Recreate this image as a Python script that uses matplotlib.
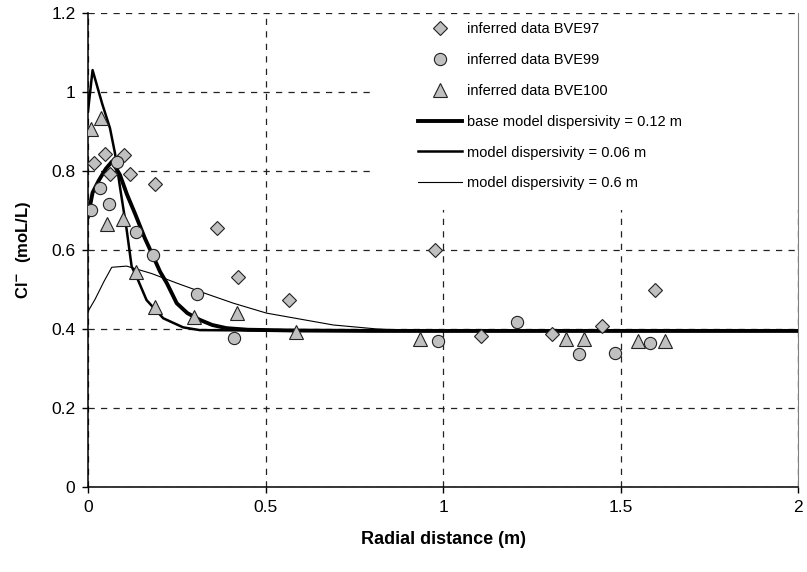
import matplotlib

matplotlib.use("Agg")
import matplotlib.pyplot as plt
from matplotlib.lines import Line2D
from matplotlib.patches import Rectangle

plt.rcParams["font.family"] = ["Liberation Sans", "DejaVu Sans"]

# inferred data (radial distance m, Cl- mol/L)
bve97_x = [0.018, 0.048, 0.062, 0.101, 0.118, 0.19, 0.362, 0.422, 0.567, 0.977, 1.106, 1.308, 1.447, 1.598]
bve97_y = [0.821, 0.842, 0.792, 0.839, 0.792, 0.768, 0.656, 0.532, 0.473, 0.600, 0.381, 0.387, 0.408, 0.499]

bve99_x = [0.008, 0.034, 0.060, 0.083, 0.135, 0.184, 0.308, 0.410, 0.985, 1.209, 1.382, 1.483, 1.583]
bve99_y = [0.701, 0.756, 0.716, 0.823, 0.645, 0.587, 0.488, 0.376, 0.370, 0.417, 0.336, 0.338, 0.365]

bve100_x = [0.008, 0.036, 0.053, 0.100, 0.135, 0.189, 0.300, 0.421, 0.586, 0.935, 1.345, 1.398, 1.548, 1.624]
bve100_y = [0.905, 0.933, 0.666, 0.678, 0.545, 0.456, 0.431, 0.440, 0.393, 0.374, 0.374, 0.374, 0.370, 0.370]

# model curves
base_x = [0.0, 0.013, 0.03, 0.05, 0.068, 0.09, 0.11, 0.132, 0.16, 0.184, 0.203, 0.222, 0.25, 0.28, 0.315, 0.35, 0.39, 0.45, 0.578, 0.8, 1.2, 2.0]
base_y = [0.684, 0.745, 0.775, 0.805, 0.824, 0.79, 0.74, 0.693, 0.63, 0.583, 0.545, 0.516, 0.465, 0.44, 0.423, 0.41, 0.402, 0.398, 0.396, 0.395, 0.395, 0.395]

d006_x = [0.0, 0.013, 0.04, 0.062, 0.076, 0.09, 0.109, 0.123, 0.137, 0.165, 0.212, 0.268, 0.315, 0.5, 1.0, 2.0]
d006_y = [0.95, 1.055, 0.97, 0.908, 0.845, 0.76, 0.651, 0.558, 0.532, 0.473, 0.427, 0.404, 0.397, 0.396, 0.395, 0.395]

d06_x = [0.0, 0.02, 0.045, 0.067, 0.109, 0.18, 0.25, 0.33, 0.41, 0.503, 0.597, 0.691, 0.813, 0.926, 1.1, 2.0]
d06_y = [0.444, 0.475, 0.52, 0.556, 0.559, 0.54, 0.516, 0.49, 0.465, 0.44, 0.425, 0.41, 0.4, 0.396, 0.395, 0.395]

x_ticks = [0, 0.5, 1, 1.5, 2]
x_labels = ["0", "0.5", "1", "1.5", "2"]
y_ticks = [0, 0.2, 0.4, 0.6, 0.8, 1.0, 1.2]
y_labels = ["0", "0.2", "0.4", "0.6", "0.8", "1", "1.2"]

fig = plt.figure(figsize=(8.07, 5.72), dpi=100)
ax = fig.add_axes([0.109, 0.1486, 0.88, 0.829])

ax.plot(d06_x, d06_y, color="black", lw=0.8, zorder=3)
ax.plot(d006_x, d006_y, color="black", lw=1.8, zorder=3)
ax.plot(base_x, base_y, color="black", lw=2.8, zorder=3)

mk = dict(linestyle="none", markerfacecolor="#c0c0c0", markeredgecolor="#222222", markeredgewidth=0.8, zorder=4)
ax.plot(bve97_x, bve97_y, marker="D", markersize=7.5, **mk)
ax.plot(bve99_x, bve99_y, marker="o", markersize=8.8, **mk)
ax.plot(bve100_x, bve100_y, marker="^", markersize=10, **mk)

ax.set_xlim(0, 2)
ax.set_ylim(0, 1.2)
ax.set_xticks(x_ticks, x_labels)
ax.set_yticks(y_ticks, y_labels)
ax.tick_params(direction="out", length=4, width=1, labelsize=12.5, pad=5)

ax.grid(True, color="#222222", linestyle=(0, (5, 5)), linewidth=0.9)
ax.set_axisbelow(True)
ax.spines["top"].set_visible(False)
ax.spines["right"].set_color("#808080")
ax.spines["left"].set_linewidth(1.1)
ax.spines["bottom"].set_linewidth(1.1)

# white legend area hides the grid behind it
ax.add_patch(Rectangle((0.397, 0.584), 0.603, 0.41, transform=ax.transAxes,
                       facecolor="white", edgecolor="none", zorder=1))

ax.set_xlabel("Radial distance (m)", fontsize=13, fontweight="bold", labelpad=12)
ax.set_ylabel(r"Cl$^{\mathbf{-}}$  (moL/L)", fontsize=12, fontweight="bold")
ax.yaxis.set_label_coords(-0.077, 0.5)

handles = [
    Line2D([], [], marker="D", markersize=7.5, **mk),
    Line2D([], [], marker="o", markersize=8.8, **mk),
    Line2D([], [], marker="^", markersize=10, **mk),
    Line2D([], [], color="black", lw=2.8),
    Line2D([], [], color="black", lw=1.8),
    Line2D([], [], color="black", lw=0.8),
]
labels = [
    "inferred data BVE97",
    "inferred data BVE99",
    "inferred data BVE100",
    "base model dispersivity = 0.12 m",
    "model dispersivity = 0.06 m",
    "model dispersivity = 0.6 m",
]
ax.legend(handles, labels, loc="upper left", bbox_to_anchor=(0.455, 0.995), frameon=False,
          fontsize=10.5, handlelength=3.0, handletextpad=0.3, labelspacing=1.15, borderpad=0)

fig.savefig("out.png", dpi=100)
